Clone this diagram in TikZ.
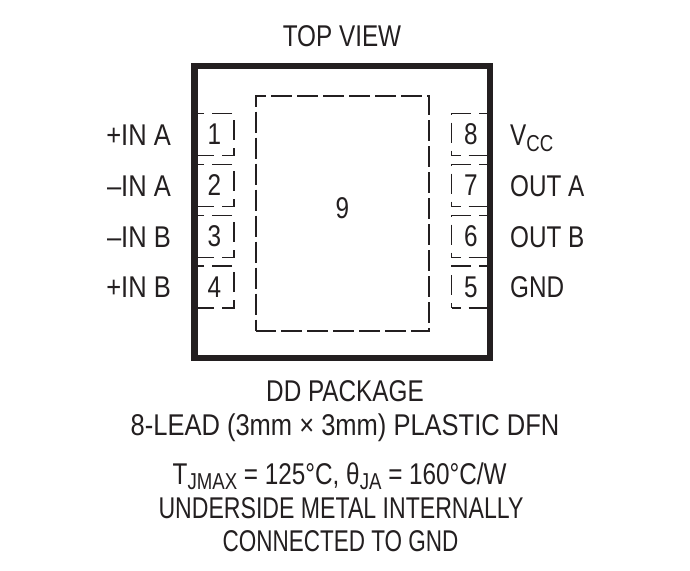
\documentclass[tikz,border=0pt]{standalone}
\usepackage{fontspec}
\setmainfont[FakeStretch=0.81]{Liberation Sans}
\newfontfamily\widefont[FakeStretch=0.85]{Liberation Sans}
\newfontfamily\slimfont[FakeStretch=0.77]{Liberation Sans}
\newfontfamily\thinfont[FakeStretch=0.75]{Liberation Sans}
\definecolor{ink}{HTML}{231F20}
\newcommand{\subtxt}[1]{\raisebox{-5.5pt}{\fontsize{23}{23}\selectfont #1}}
\tikzset{
  every node/.style={text=ink, font=\fontsize{30}{30}\selectfont, inner sep=0pt},
  padbox/.style={draw=ink, line width=1.8pt, minimum width=39pt, minimum height=42pt},
  padleft/.style={padbox, dash pattern=on 20pt off 8pt, dash phase=1pt},
  padright/.style={padbox, dash pattern=on 20pt off 8pt, dash phase=11pt},
  pinleft/.style={anchor=base east},
  pinright/.style={anchor=base west},
  caption/.style={anchor=base}
}
\begin{document}
\begin{tikzpicture}[x=1pt,y=-1pt]
  \useasboundingbox [fill=white] (0,0) rectangle (690,570);

  \node (top) [caption] at (342,46) {TOP VIEW};

  \node (pad1) [padleft] at (214.5,134.5) {1};
  \node (pad2) [padleft] at (214.5,185.5) {2};
  \node (pad3) [padleft] at (214.5,236.5) {3};
  \node (pad4) [padleft] at (214.5,287) {4};
  \node (pad8) [padright] at (471,134.5) {8};
  \node (pad7) [padright] at (471,185.5) {7};
  \node (pad6) [padright] at (471,236.5) {6};
  \node (pad5) [padright] at (471,287) {5};

  \node (pad9) [draw=ink, line width=1.8pt, dash pattern=on 21pt off 5pt, dash phase=0.5pt, minimum width=173pt, minimum height=235.5pt] at (342.2,213.4) {};
  \node (num9) [caption] at (342.5,218) {9};

  \node (body) [draw=ink, line width=6.2pt, minimum width=295.8pt, minimum height=292.6pt] at (342.4,212) {};

  \node (inap) [pinleft] at (171,145.7) {\widefont +IN A};
  \node (inam) [pinleft] at (171,196.3) {\widefont –IN A};
  \node (inbm) [pinleft] at (171,247) {\widefont –IN B};
  \node (inbp) [pinleft] at (171,297.5) {\widefont +IN B};

  \node (vcc) [pinright] at (510,145.7) {V\subtxt{CC}};
  \node (outa) [pinright] at (510,196.3) {OUT A};
  \node (outb) [pinright] at (510,247) {OUT B};
  \node (gnd) [pinright] at (510,297.5) {GND};

  \node (pkg) [caption] at (345,401.7) {DD PACKAGE};
  \node (lead) [caption] at (345,435) {\widefont 8-LEAD (3mm × 3mm) PLASTIC DFN};
  \node (temp) [caption] at (339.7,484) {T\subtxt{JMAX} = 125°C, θ\subtxt{JA} = 160°C/W};
  \node (metal) [caption] at (341,518.3) {\slimfont UNDERSIDE METAL INTERNALLY};
  \node (conn) [caption] at (340.5,551.7) {\thinfont CONNECTED TO GND};
\end{tikzpicture}
\end{document}
